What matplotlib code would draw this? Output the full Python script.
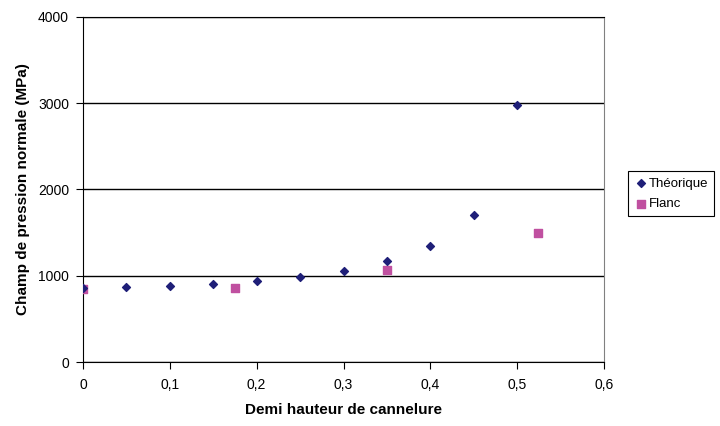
import numpy as np
import matplotlib.pyplot as plt

plt.rcParams['font.family'] = ['Liberation Sans', 'DejaVu Sans']

x_theo = [0, 0.05, 0.1, 0.15, 0.2, 0.25, 0.3, 0.35, 0.4, 0.45, 0.5]
y_theo = [855, 866, 877, 904, 935, 982, 1059, 1167, 1341, 1700, 2980]
x_flanc = [0, 0.175, 0.35, 0.524]
y_flanc = [850, 862, 1063, 1492]

xticks = [0, 0.1, 0.2, 0.3, 0.4, 0.5, 0.6]
xtick_labels = ['0', '0,1', '0,2', '0,3', '0,4', '0,5', '0,6']
yticks = [0, 1000, 2000, 3000, 4000]

fig = plt.figure(figsize=(7.2, 4.26), dpi=100)
ax = fig.add_axes([83/720, 64/426, 521/720, 345/426])

ax.scatter(x_theo, y_theo, marker='D', s=16, color='#1f1f78', zorder=4, label='Théorique')
ax.scatter(x_flanc, y_flanc, marker='s', s=26, color='#c050a0', zorder=3, label='Flanc')

ax.set_xlim(0, 0.6)
ax.set_ylim(0, 4000)
ax.set_xticks(xticks)
ax.set_xticklabels(xtick_labels)
ax.set_yticks(yticks)
ax.yaxis.grid(True, color='black', linewidth=1)
ax.set_axisbelow(True)

for s in ['left', 'bottom']:
    ax.spines[s].set_color('black')
ax.spines['right'].set_color('#808080')
ax.spines['top'].set_color('black')
ax.tick_params(direction='out', length=5, labelsize=10, colors='black')
ax.tick_params(axis='x', pad=6.5)
ax.tick_params(axis='y', pad=5)

ax.set_xlabel('Demi hauteur de cannelure', fontsize=11, fontweight='bold', labelpad=8)
ax.set_ylabel('Champ de pression normale (MPa)', fontsize=11, fontweight='bold', labelpad=6)

leg = fig.legend(loc='center left', bbox_to_anchor=(628/720, 0.545), fontsize=9.5,
                 frameon=True, fancybox=False, edgecolor='black', framealpha=1,
                 handletextpad=0.1, handlelength=1.0, borderpad=0.45, labelspacing=0.65,
                 borderaxespad=0)
leg.get_frame().set_linewidth(0.8)

fig.savefig('out.png', dpi=100)
